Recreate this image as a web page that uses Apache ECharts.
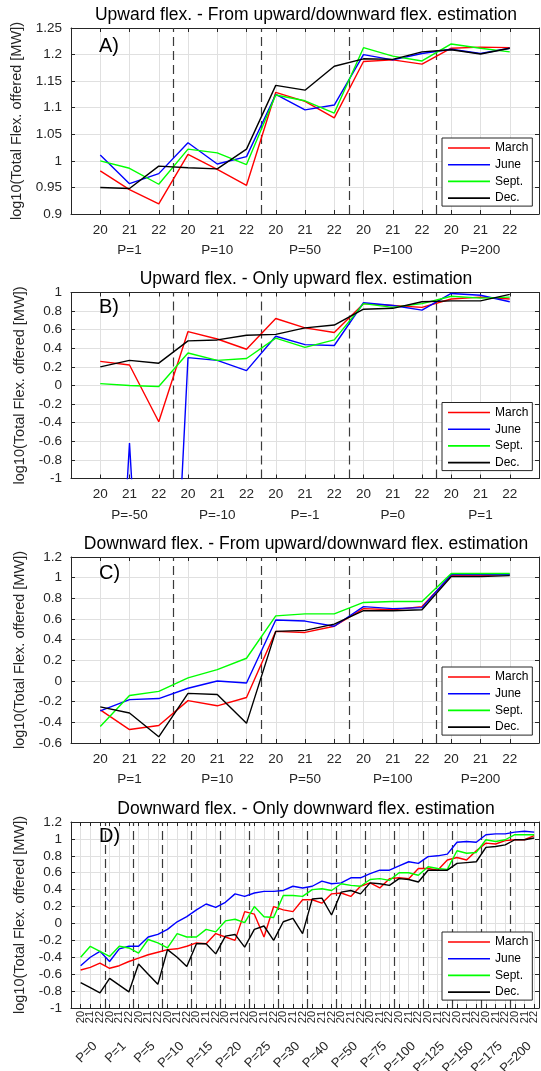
<!DOCTYPE html>
<html><head><meta charset="utf-8">
<script src="https://cdn.jsdelivr.net/npm/echarts@6/dist/echarts.min.js"></script>
<style>html,body{margin:0;padding:0;background:#fff}#c{width:541px;height:1071px}</style>
</head><body><div id="c"></div>
<script>
// ---------- data ----------
const seriesNames = ['March', 'June', 'Sept.', 'Dec.'];
const subLabels = ['20', '21', '22'];
const groupsA = ['P=1', 'P=10', 'P=50', 'P=100', 'P=200'];
const groupsB = ['P=-50', 'P=-10', 'P=-1', 'P=0', 'P=1'];
const groupsC = ['P=1', 'P=10', 'P=50', 'P=100', 'P=200'];
const groupsD = ['P=0', 'P=1', 'P=5', 'P=10', 'P=15', 'P=20', 'P=25', 'P=30', 'P=40', 'P=50', 'P=75', 'P=100', 'P=125', 'P=150', 'P=175', 'P=200'];

const aMarch = [0.981, 0.946, 0.919, 1.012, 0.984, 0.954, 1.129, 1.112, 1.081, 1.187, 1.190, 1.182, 1.212, 1.214, 1.213];
const aJune  = [1.011, 0.957, 0.976, 1.034, 0.994, 1.008, 1.125, 1.096, 1.105, 1.200, 1.190, 1.202, 1.210, 1.202, 1.212];
const aSept  = [1.000, 0.986, 0.956, 1.022, 1.015, 0.993, 1.124, 1.113, 1.090, 1.213, 1.197, 1.188, 1.220, 1.212, 1.205];
const aDec   = [0.950, 0.948, 0.990, 0.987, 0.985, 1.022, 1.142, 1.133, 1.178, 1.192, 1.191, 1.205, 1.209, 1.201, 1.212];

const bMarch = [0.26, 0.22, -0.39, 0.58, 0.50, 0.39, 0.72, 0.62, 0.57, 0.88, 0.86, 0.84, 0.93, 0.95, 0.93];
const bJune  = [-6, -0.62, -6, 0.30, 0.27, 0.16, 0.53, 0.44, 0.43, 0.89, 0.86, 0.81, 0.99, 0.97, 0.90];
const bSept  = [0.02, 0.00, -0.01, 0.35, 0.27, 0.29, 0.51, 0.41, 0.49, 0.88, 0.84, 0.88, 0.96, 0.94, 0.95];
const bDec   = [0.20, 0.27, 0.24, 0.48, 0.49, 0.54, 0.55, 0.62, 0.65, 0.82, 0.83, 0.90, 0.91, 0.91, 0.98];

const cMarch = [-0.28, -0.47, -0.43, -0.19, -0.24, -0.16, 0.48, 0.47, 0.53, 0.70, 0.69, 0.72, 1.02, 1.02, 1.03];
const cJune  = [-0.29, -0.18, -0.17, -0.07, 0.00, -0.02, 0.59, 0.58, 0.53, 0.72, 0.70, 0.71, 1.03, 1.03, 1.03];
const cSept  = [-0.44, -0.14, -0.10, 0.03, 0.11, 0.22, 0.63, 0.65, 0.65, 0.76, 0.77, 0.77, 1.04, 1.04, 1.04];
const cDec   = [-0.25, -0.31, -0.54, -0.12, -0.13, -0.41, 0.48, 0.49, 0.55, 0.68, 0.68, 0.69, 1.01, 1.01, 1.02];

const dMarch = [-0.55, -0.52, -0.47, -0.53, -0.50, -0.45, -0.41, -0.37, -0.34, -0.31, -0.30, -0.27, -0.23, -0.24, -0.12, -0.16,
  -0.20, 0.14, 0.11, -0.16, 0.20, 0.16, 0.14, 0.28, 0.28, 0.24, 0.35, 0.36, 0.32, 0.44, 0.48, 0.42,
  0.53, 0.54, 0.53, 0.65, 0.65, 0.63, 0.75, 0.78, 0.75, 0.86, 0.95, 0.94, 0.98, 0.99, 0.99, 1.04];
const dJune = [-0.50, -0.40, -0.33, -0.45, -0.30, -0.27, -0.27, -0.16, -0.13, -0.07, 0.02, 0.08, 0.16, 0.23, 0.19, 0.25,
  0.35, 0.32, 0.36, 0.38, 0.38, 0.39, 0.44, 0.42, 0.44, 0.50, 0.47, 0.48, 0.54, 0.54, 0.59, 0.63,
  0.63, 0.68, 0.73, 0.71, 0.79, 0.80, 0.82, 0.96, 0.97, 0.96, 1.05, 1.06, 1.06, 1.08, 1.09, 1.08];
const dSept = [-0.40, -0.27, -0.33, -0.39, -0.27, -0.29, -0.35, -0.19, -0.23, -0.29, -0.12, -0.16, -0.16, -0.07, -0.10, 0.03,
  0.05, 0.01, 0.20, 0.08, 0.07, 0.33, 0.33, 0.32, 0.40, 0.41, 0.39, 0.47, 0.45, 0.44, 0.52, 0.53,
  0.51, 0.60, 0.60, 0.57, 0.67, 0.65, 0.64, 0.86, 0.83, 0.84, 0.99, 0.97, 0.99, 1.05, 1.05, 1.05];
const dDec = [-0.70, -0.76, -0.82, -0.65, -0.73, -0.81, -0.48, -0.60, -0.72, -0.31, -0.40, -0.51, -0.24, -0.24, -0.36, -0.15,
  -0.13, -0.28, -0.07, -0.03, -0.20, 0.02, 0.06, -0.12, 0.29, 0.30, 0.10, 0.37, 0.39, 0.35, 0.48, 0.47,
  0.45, 0.53, 0.52, 0.49, 0.63, 0.63, 0.63, 0.71, 0.72, 0.73, 0.90, 0.91, 0.93, 0.99, 0.99, 1.01];

// ---------- styling / layout ----------
const colors = ['#ff0000', '#0000ff', '#00ff00', '#000000'];
const FONT = '"Liberation Sans", Arial, Helvetica, sans-serif';
const axisColor = '#262626';
const gridColor = '#e0e0e0';
const yName = 'log10(Total Flex. offered [MW])';

const panels = [
  {title: 'Upward flex. - From upward/downward flex. estimation', letter: 'A)', groups: groupsA,
   vals: [aMarch, aJune, aSept, aDec], yMin: 0.9, yMax: 1.25, yInt: 0.05, top: 28, letterTop: 36},
  {title: 'Upward flex. - Only upward flex. estimation', letter: 'B)', groups: groupsB,
   vals: [bMarch, bJune, bSept, bDec], yMin: -1, yMax: 1, yInt: 0.2, top: 292.5, letterTop: 297},
  {title: 'Downward flex. - From upward/downward flex. estimation', letter: 'C)', groups: groupsC,
   vals: [cMarch, cJune, cSept, cDec], yMin: -0.6, yMax: 1.2, yInt: 0.2, top: 557, letterTop: 563},
  {title: 'Downward flex. - Only downward flex. estimation', letter: 'D)', groups: groupsD,
   vals: [dMarch, dJune, dSept, dDec], yMin: -1, yMax: 1.2, yInt: 0.2, top: 822, letterTop: 826}
];

const PLOT_H = 186;
const option = {
  animation: false,
  backgroundColor: '#fff',
  textStyle: {fontFamily: FONT},
  title: [], grid: [], xAxis: [], yAxis: [], series: [], legend: [], graphic: []
};

panels.forEach((p, k) => {
  const n = p.vals[0].length;
  const dense = n > 20;
  const xMax = dense ? n + 0.5 : n + 1;
  const lineAx = {show: true, onZero: false, lineStyle: {color: axisColor, width: 1}};
  const tickIn = {show: true, inside: true, length: 4, lineStyle: {color: axisColor, width: 1}};

  option.title.push({
    text: p.title, left: 306, top: p.top - 22, textAlign: 'center', padding: 0,
    textStyle: {fontSize: 17.5, fontWeight: 'normal', color: '#000', fontFamily: FONT}
  });
  option.grid.push({left: 71, right: 2, top: p.top, height: PLOT_H, containLabel: false,
    outerBoundsMode: 'none'});

  const base = {gridIndex: k, type: 'value', min: 0, max: xMax, interval: 1};
  option.xAxis.push(Object.assign({}, base, {
    position: 'bottom', axisLine: lineAx, axisTick: tickIn,
    splitLine: {show: true, lineStyle: {color: gridColor, width: 1}},
    axisLabel: {
      show: true, margin: dense ? 3 : 9, rotate: dense ? 90 : 0, fontSize: dense ? 11 : 13.5,
      color: axisColor, fontFamily: FONT, hideOverlap: false,
      formatter: v => (Number.isInteger(v) && v >= 1 && v <= n) ? subLabels[(v - 1) % 3] : ''
    }
  }));
  option.xAxis.push(Object.assign({}, base, {
    position: 'top', axisLine: lineAx, axisTick: tickIn,
    axisLabel: {show: false}, splitLine: {show: false}
  }));
  // group-name row (for the dense panel the names sit half a step to the right)
  const gStep = dense ? 0.5 : 1;
  const gShift = dense ? 0.5 : 0;
  option.xAxis.push(Object.assign({}, base, {
    interval: gStep,
    position: 'bottom', offset: dense ? 36 : 20.5,
    axisLine: {show: false}, axisTick: {show: false}, splitLine: {show: false},
    axisLabel: {
      show: true, margin: dense ? 0 : 9, rotate: dense ? 45 : 0, fontSize: dense ? 13 : 13.5,
      color: axisColor, fontFamily: FONT, hideOverlap: false,
      formatter: v => {
        const g = (v - gShift - 2) / 3;
        return (Number.isInteger(g) && g >= 0 && g < p.groups.length) ? p.groups[g] : '';
      }
    }
  }));

  option.yAxis.push({
    gridIndex: k, type: 'value', min: p.yMin, max: p.yMax, interval: p.yInt, position: 'left',
    name: yName, nameLocation: 'middle', nameGap: 35,
    nameTextStyle: {fontSize: 14.5, color: axisColor, fontFamily: FONT},
    axisLine: lineAx, axisTick: tickIn,
    splitLine: {show: true, lineStyle: {color: gridColor, width: 1}},
    axisLabel: {fontSize: 13.5, margin: 9, color: axisColor, fontFamily: FONT,
      formatter: v => String(+v.toFixed(3))}
  });
  option.yAxis.push({
    gridIndex: k, type: 'value', min: p.yMin, max: p.yMax, interval: p.yInt, position: 'right',
    axisLine: lineAx, axisTick: tickIn, axisLabel: {show: false}, splitLine: {show: false}
  });

  p.vals.forEach((arr, s) => {
    const ser = {
      type: 'line', name: seriesNames[s], xAxisIndex: 3 * k, yAxisIndex: 2 * k,
      data: arr.map((v, i) => [i + 1, v]),
      symbol: 'none', showSymbol: false, clip: true, silent: true, z: 3 + s,
      lineStyle: {color: colors[s], width: 1.4}, itemStyle: {color: colors[s]}
    };
    if (s === 0) {
      ser.markLine = {
        silent: true, symbol: ['none', 'none'], label: {show: false}, z: 2,
        lineStyle: {type: [9, 5], color: '#3a3a3a', width: 1.2},
        data: p.groups.slice(1).map((g, j) => ({xAxis: 3 * (j + 1) + 0.5}))
      };
    }
    option.series.push(ser);
  });

  option.legend.push({
    data: seriesNames, orient: 'vertical', left: 442, top: p.top + 110,
    backgroundColor: '#fff', borderColor: axisColor, borderWidth: 1, borderRadius: 0,
    padding: [3, 4, 1, 6], itemGap: 2.7, itemWidth: 42, itemHeight: 1.6, icon: 'rect',
    selectedMode: false,
    textStyle: {fontSize: 12, color: '#000', fontFamily: FONT, lineHeight: 14}
  });

  option.graphic.push({
    type: 'text', left: 99, top: p.letterTop, z: 10,
    style: {text: p.letter, font: '20px ' + FONT, fill: '#000'}
  });
});

const chart = echarts.init(document.getElementById('c'), null, {renderer: 'canvas'});
chart.setOption(option);
</script>
</body></html>
